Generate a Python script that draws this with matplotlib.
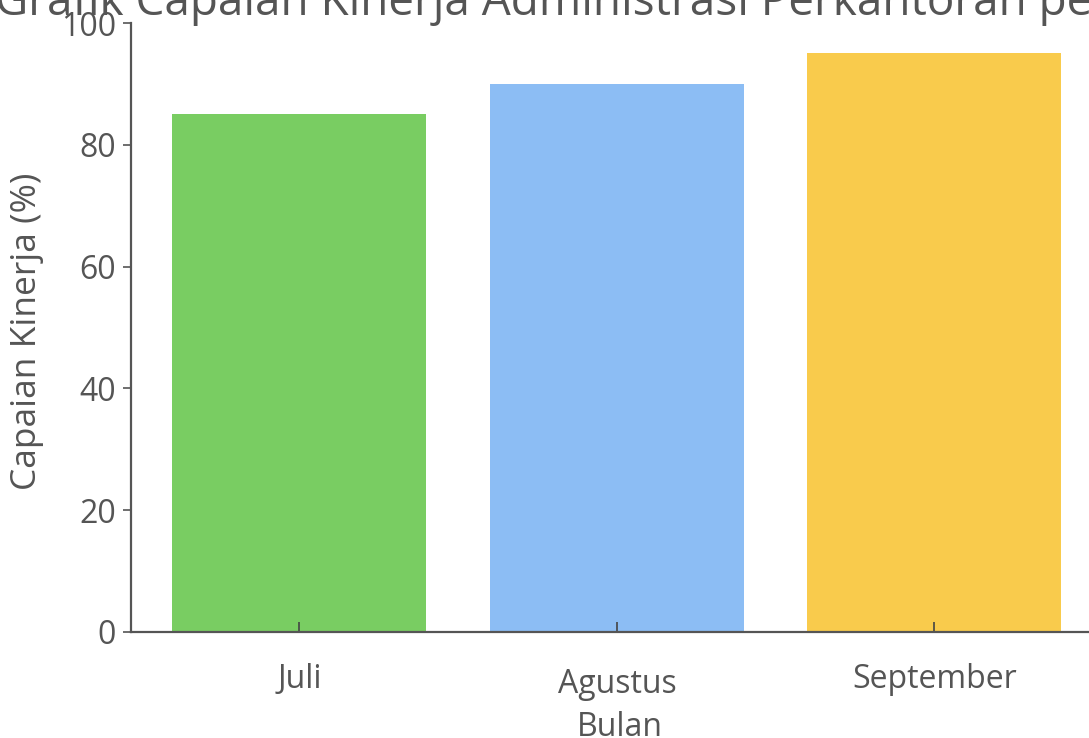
import matplotlib.pyplot as plt
import numpy as np

plt.rcParams['font.family'] = ['Open Sans', 'DejaVu Sans']

# data
bulan = ["Juli", "Agustus", "September"]
capaian = [85, 90, 95]
warna = ["#79CD62", "#8CBDF4", "#F9CB4C"]

W, H = 1089, 738
fig = plt.figure(figsize=(W / 100, H / 100), dpi=100)
# axes runs past the right edge, like the cropped original
ax_w = 994
ax = fig.add_axes([131 / W, 1 - 632 / H, ax_w / W, 609 / H])

x = np.arange(len(bulan))
ax.bar(x, capaian, width=0.8, color=warna)

ax.set_xlim(-0.53, 2.6)
ax.set_ylim(0, 100)
ax.set_yticks([0, 20, 40, 60, 80, 100])
ax.set_xticks(x)
ax.set_xticklabels(bulan)

for s in ["top", "right"]:
    ax.spines[s].set_visible(False)
for s in ["left", "bottom"]:
    ax.spines[s].set_color("#555555")
    ax.spines[s].set_linewidth(1.6)

ax.tick_params(axis="y", labelsize=23, colors="#555555", labelcolor="#555555",
               length=6, width=1.2, pad=5)
ax.tick_params(axis="x", labelsize=23, colors="#444444", labelcolor="#555555",
               direction="in", length=7, width=1.2, pad=22)
ax.xaxis.get_major_ticks()[1].set_pad(26)

ax.set_ylabel("Capaian Kinerja (%)", fontsize=25.5, color="#555555")
ax.yaxis.set_label_coords((44 - 131) / ax_w, (632 - 331) / 609)
ax.set_xlabel("Bulan", fontsize=23, color="#555555")
ax.xaxis.set_label_coords((620 - 131) / ax_w, -0.13)

fig.text(-0.005, 1 - 15 / H, "Grafik Capaian Kinerja Administrasi Perkantoran per Bulan",
         fontsize=33, color="#555555", ha="left", va="baseline")

fig.savefig("out.png", dpi=100)
